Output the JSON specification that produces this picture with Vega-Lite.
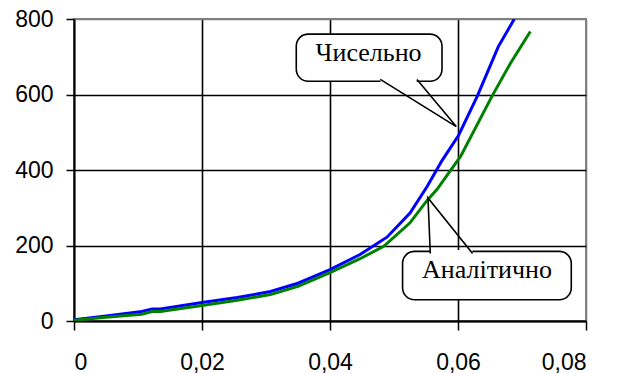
{
  "$schema": "https://vega.github.io/schema/vega-lite/v6.json",
  "width": 512,
  "height": 302,
  "autosize": {"type": "none"},
  "padding": {"left": 74, "top": 19, "right": 33, "bottom": 53},
  "background": "white",
  "config": {
    "locale": {"number": {"decimal": ",", "thousands": " ", "grouping": [3], "currency": ["", ""]}},
    "view": {"stroke": "#808080", "strokeWidth": 2},
    "axis": {
      "domainColor": "black",
      "domainWidth": 1.8,
      "tickColor": "black",
      "tickWidth": 1.5,
      "gridWidth": 1.6,
      "labelFont": "Liberation Sans",
      "labelFontSize": 23,
      "labelColor": "black"
    }
  },
  "datasets": {
    "lines": [
      {"s": "num", "x": 0, "y": 3},
      {"s": "num", "x": 0.005, "y": 13},
      {"s": "num", "x": 0.0106, "y": 25},
      {"s": "num", "x": 0.0122, "y": 32},
      {"s": "num", "x": 0.0135, "y": 32},
      {"s": "num", "x": 0.02, "y": 49},
      {"s": "num", "x": 0.0255, "y": 62},
      {"s": "num", "x": 0.0307, "y": 78},
      {"s": "num", "x": 0.035, "y": 100},
      {"s": "num", "x": 0.04, "y": 136},
      {"s": "num", "x": 0.0447, "y": 176},
      {"s": "num", "x": 0.0489, "y": 222},
      {"s": "num", "x": 0.0525, "y": 286},
      {"s": "num", "x": 0.0552, "y": 357},
      {"s": "num", "x": 0.0575, "y": 425},
      {"s": "num", "x": 0.0601, "y": 492},
      {"s": "num", "x": 0.063, "y": 595},
      {"s": "num", "x": 0.0663, "y": 727},
      {"s": "num", "x": 0.0688, "y": 800},
      {"s": "an", "x": 0, "y": 2},
      {"s": "an", "x": 0.005, "y": 10},
      {"s": "an", "x": 0.0106, "y": 18},
      {"s": "an", "x": 0.0122, "y": 25},
      {"s": "an", "x": 0.0135, "y": 25},
      {"s": "an", "x": 0.02, "y": 41},
      {"s": "an", "x": 0.0255, "y": 55},
      {"s": "an", "x": 0.0307, "y": 70},
      {"s": "an", "x": 0.035, "y": 92},
      {"s": "an", "x": 0.04, "y": 128},
      {"s": "an", "x": 0.0447, "y": 165},
      {"s": "an", "x": 0.0484, "y": 198},
      {"s": "an", "x": 0.0525, "y": 260},
      {"s": "an", "x": 0.0552, "y": 320},
      {"s": "an", "x": 0.0567, "y": 348},
      {"s": "an", "x": 0.0604, "y": 436},
      {"s": "an", "x": 0.0653, "y": 595},
      {"s": "an", "x": 0.0682, "y": 683},
      {"s": "an", "x": 0.0713, "y": 767}
    ],
    "boxes": [
      {"name": "num", "x": 0.03473, "x2": 0.0575, "y": 760, "y2": 635, "label": "Чисельно", "tx": 0.04603, "ty": 688},
      {"name": "an", "x": 0.05134, "x2": 0.0777, "y": 184.4, "y2": 56.4, "label": "Аналітично", "tx": 0.06453, "ty": 114}
    ],
    "gaps": [
      {"name": "num", "x": 0.0479, "x2": 0.05355, "y": 635},
      {"name": "an", "x": 0.0557, "x2": 0.06225, "y": 184.4}
    ],
    "tails": [
      {"name": "num", "o": 1, "x": 0.04786, "y": 640},
      {"name": "num", "o": 2, "x": 0.05973, "y": 515},
      {"name": "num", "o": 3, "x": 0.05359, "y": 640},
      {"name": "an", "o": 1, "x": 0.05567, "y": 179},
      {"name": "an", "o": 2, "x": 0.05531, "y": 326},
      {"name": "an", "o": 3, "x": 0.06228, "y": 179}
    ]
  },
  "layer": [
    {
      "data": {"name": "lines"},
      "transform": [{"filter": "datum.s == 'num'"}],
      "mark": {"type": "line", "color": "#0000ff", "strokeWidth": 3, "clip": true},
      "encoding": {
        "x": {
          "field": "x", "type": "quantitative", "title": null,
          "scale": {"domain": [0, 0.08], "nice": false, "zero": false},
          "axis": {
            "values": [0, 0.02, 0.04, 0.06, 0.08],
            "format": ".2~f",
            "tickSize": 9,
            "labelPadding": 21,
            "grid": true,
            "gridColor": {"condition": {"test": "datum.value >= 0.08", "value": "#808080"}, "value": "black"}
          }
        },
        "y": {
          "field": "y", "type": "quantitative", "title": null,
          "scale": {"domain": [0, 800], "nice": false},
          "axis": {
            "values": [0, 200, 400, 600, 800],
            "tickSize": 8,
            "labelPadding": 13,
            "grid": true,
            "gridColor": {"condition": {"test": "datum.value >= 800", "value": "#808080"}, "value": "black"}
          }
        }
      }
    },
    {
      "data": {"name": "lines"},
      "transform": [{"filter": "datum.s == 'an'"}],
      "mark": {"type": "line", "color": "#008000", "strokeWidth": 3, "clip": true},
      "encoding": {
        "x": {"field": "x", "type": "quantitative", "title": null},
        "y": {"field": "y", "type": "quantitative", "title": null}
      }
    },
    {
      "data": {"name": "boxes"},
      "mark": {"type": "rect", "fill": "white", "stroke": "black", "strokeWidth": 1.6, "cornerRadius": 12},
      "encoding": {
        "x": {"field": "x", "type": "quantitative", "title": null},
        "x2": {"field": "x2"},
        "y": {"field": "y", "type": "quantitative", "title": null},
        "y2": {"field": "y2"}
      }
    },
    {
      "data": {"name": "gaps"},
      "mark": {"type": "rule", "color": "white", "strokeWidth": 3},
      "encoding": {
        "x": {"field": "x", "type": "quantitative", "title": null},
        "x2": {"field": "x2"},
        "y": {"field": "y", "type": "quantitative", "title": null}
      }
    },
    {
      "data": {"name": "tails"},
      "mark": {"type": "line", "color": "black", "strokeWidth": 1.6},
      "encoding": {
        "x": {"field": "x", "type": "quantitative", "title": null},
        "y": {"field": "y", "type": "quantitative", "title": null},
        "detail": {"field": "name"},
        "order": {"field": "o"}
      }
    },
    {
      "data": {"name": "boxes"},
      "mark": {"type": "text", "font": "Liberation Serif", "fontSize": 26, "align": "center", "baseline": "alphabetic", "color": "black"},
      "encoding": {
        "x": {"field": "tx", "type": "quantitative", "title": null},
        "y": {"field": "ty", "type": "quantitative", "title": null},
        "text": {"field": "label"}
      }
    }
  ]
}
